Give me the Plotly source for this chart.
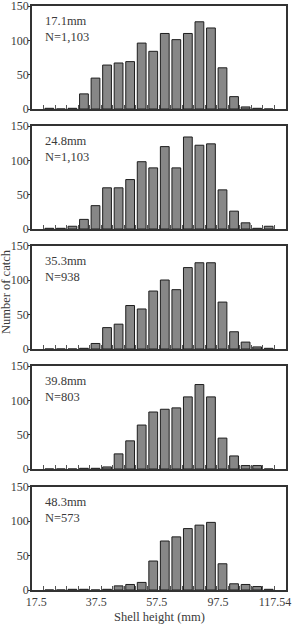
import plotly.graph_objects as go

# ---- data ----
bins = list(range(20))  # shell-height class index
labels = ["17.1mm<br>N=1,103", "24.8mm<br>N=1,103", "35.3mm<br>N=938",
          "39.8mm<br>N=803", "48.3mm<br>N=573"]
p1 = [1, 0, 1, 22, 45, 64, 67, 69, 96, 84, 110, 101, 110, 127, 118, 60, 18, 3, 1, 0]
p2 = [1, 1, 4, 14, 34, 60, 60, 72, 98, 89, 120, 89, 134, 122, 124, 57, 26, 9, 1, 4]
p3 = [0, 0, 0, 1, 8, 31, 36, 63, 58, 84, 100, 86, 118, 125, 125, 68, 25, 10, 3, 1]
p4 = [0, 0, 0, 1, 1, 3, 22, 41, 64, 83, 87, 89, 105, 123, 105, 45, 19, 5, 5, 0]
p5 = [0, 0, 1, 1, 0, 1, 6, 8, 11, 42, 71, 77, 89, 94, 98, 38, 9, 8, 5, 1]
panels = [p1, p2, p3, p4, p5]
xtick_text = ["17.5", "37.5", "57.5", "97.5", "117.54"]
ytick_vals = [0, 50, 100, 150]

# ---- layout geometry ----
W, H = 292, 628
mt, mb, ml, mr = 6, 38, 32, 6
tops = [6, 126, 245.5, 366, 486.5]
bots = [109, 229, 349, 469, 590]
ph = H - mt - mb
pw = W - ml - mr
xtick_pos = [-1.13, 4.06, 9.3, 14.6, 19.55]
edge_ticks = [b - 0.5 for b in bins] + [bins[-1] + 0.5]

FONT = "Liberation Serif"
TXT = "#3a3a3a"
LINE = "#333333"

fig = go.Figure()
for i, vals in enumerate(panels):
    n = i + 1
    xa = "x" if n == 1 else f"x{n}"
    ya = "y" if n == 1 else f"y{n}"
    fig.add_trace(go.Bar(
        x=bins, y=vals, xaxis=xa, yaxis=ya, width=0.76,
        marker=dict(color="#878787", line=dict(color="#1e1e1e", width=1)),
        showlegend=False, hoverinfo="x+y"))
    dom = [1 - (bots[i] - mt) / ph, 1 - (tops[i] - mt) / ph]
    xkey = "xaxis" if n == 1 else f"xaxis{n}"
    ykey = "yaxis" if n == 1 else f"yaxis{n}"
    last = n == len(panels)
    fig.layout[xkey] = dict(
        domain=[0, 1], anchor=ya, range=[-1.5, 20.5],
        showline=True, mirror=True, linecolor=LINE, linewidth=1.5,
        showgrid=False, zeroline=False,
        tickmode="array", tickvals=xtick_pos,
        ticktext=xtick_text if last else [""] * len(xtick_pos),
        showticklabels=last, ticks="", ticklabeloverflow="allow",
        tickfont=dict(family=FONT, size=12, color=TXT),
        minor=dict(tickmode="array", tickvals=edge_ticks, ticks="inside",
                   ticklen=4, tickcolor="#555", tickwidth=1, showgrid=False),
        fixedrange=True,
    )
    fig.layout[ykey] = dict(
        domain=dom, anchor=xa, range=[0, 150],
        showline=True, mirror=True, linecolor=LINE, linewidth=1.5,
        showgrid=False, zeroline=False,
        tickmode="array", tickvals=ytick_vals, ticks="outside", ticklen=2,
        ticklabelstandoff=-3, ticklabeloverflow="allow",
        tickcolor=LINE, tickfont=dict(family=FONT, size=12, color=TXT),
        fixedrange=True,
    )
    fig.add_annotation(
        xref=f"{xa} domain", yref=f"{ya} domain", x=0.045, y=0.94,
        xanchor="left", yanchor="top", align="left", showarrow=False,
        text=labels[i], font=dict(family=FONT, size=12.5, color=TXT))

fig.add_annotation(xref="paper", yref="paper", x=0.5, y=-(617 - (H - mb)) / ph,
                   xanchor="center", yanchor="middle", showarrow=False,
                   text="Shell height (mm)",
                   font=dict(family=FONT, size=12.5, color=TXT))
fig.add_annotation(xref="paper", yref="paper", x=(6 - ml) / pw,
                   y=1 - (292 - mt) / ph,
                   xanchor="center", yanchor="middle", showarrow=False,
                   textangle=-90, text="Number of catch",
                   font=dict(family=FONT, size=12.5, color=TXT))

fig.update_layout(
    width=W, height=H, autosize=False,
    margin=dict(l=ml, r=mr, t=mt, b=mb, autoexpand=False),
    paper_bgcolor="white", plot_bgcolor="white",
    bargap=0.2,
)
fig.write_html("out.html", config={"displayModeBar": False})
